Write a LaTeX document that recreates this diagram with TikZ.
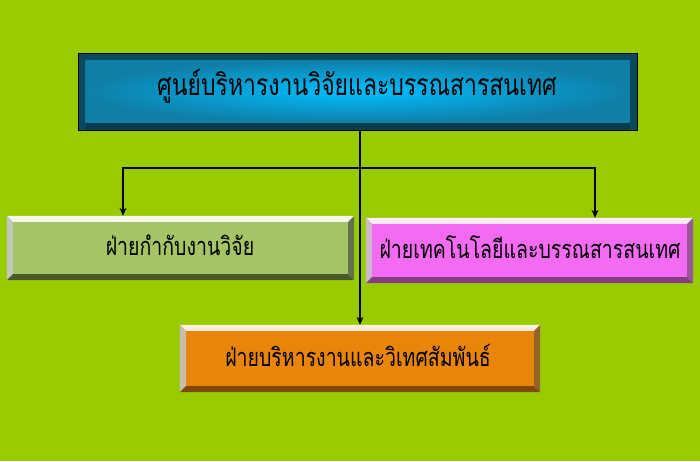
\documentclass[tikz,border=0pt]{standalone}
\usepackage{fontspec}
\usepackage{graphicx}
\newfontfamily\thaifont[Script=Thai]{Loma}
\usetikzlibrary{calc,arrows.meta}
\definecolor{bg}{HTML}{99CC00}
\definecolor{tealM}{HTML}{0F7FA8}
\definecolor{tealL}{HTML}{00BFFF}
\definecolor{tealD}{HTML}{0A4A5E}
\definecolor{greenM}{HTML}{A4C465}
\definecolor{pinkM}{HTML}{F36BF3}
\definecolor{orangeM}{HTML}{E8850A}
\newcommand{\stretchtxt}[1]{\scalebox{1}[1.3]{#1}}
\tikzset{x=1pt,y=-1pt,
 box/.style={inner sep=0pt,font=\thaifont\fontsize{19.5}{22}\selectfont},
 conn/.style={draw=black,line width=1.2pt},
 arr/.style={conn,-{Stealth[length=8pt,width=7pt]}}}
\newcommand{\bevbox}[8]{%
 \node[inner sep=0pt,minimum width=#3pt,minimum height=#4pt,fill=#5] (#1) at #2 {};
 \fill[#6] (#1.north west) -- (#1.north east) -- ([xshift=-#8pt,yshift=-#8pt]#1.north east) -- ([xshift=#8pt,yshift=-#8pt]#1.north west) -- cycle;
 \fill[#6!80!black] (#1.north west) -- ([xshift=#8pt,yshift=-#8pt]#1.north west) -- ([xshift=#8pt,yshift=#8pt]#1.south west) -- (#1.south west) -- cycle;
 \fill[#7] (#1.south west) -- ([xshift=#8pt,yshift=#8pt]#1.south west) -- ([xshift=-#8pt,yshift=#8pt]#1.south east) -- (#1.south east) -- cycle;
 \fill[#7!85!white] (#1.north east) -- ([xshift=-#8pt,yshift=-#8pt]#1.north east) -- ([xshift=-#8pt,yshift=#8pt]#1.south east) -- (#1.south east) -- cycle;
}
\begin{document}
\begin{tikzpicture}
\fill[bg] (0,0) rectangle (700,461);
\useasboundingbox (0,0) rectangle (700,461);
% top
\node[minimum width=559pt,minimum height=77pt,fill=tealD,draw=black,line width=1pt,inner sep=0pt] (top) at (357.5,91.5) {};
\shade[inner color=tealL,outer color=tealM] ([xshift=8pt,yshift=-8pt]top.north west) rectangle ([xshift=-8pt,yshift=8pt]top.south east);
\fill[tealD!80!black] ([xshift=8pt,yshift=8pt]top.south west) rectangle ([xshift=-8pt,yshift=1pt]top.south east);
\node[box,font=\thaifont\fontsize{23}{26}\selectfont] (toptxt) at (357,86) {\stretchtxt{ศูนย์บริหารงานวิจัยและบรรณสารสนเทศ}};
% left
\bevbox{left}{(180.5,248)}{347}{64}{greenM}{white!88!greenM}{greenM!45!black}{6}
\node[box] (lefttxt) at (180,245) {\stretchtxt{ฝ่ายกำกับงานวิจัย}};
% right
\bevbox{right}{(529.5,250.5)}{327}{65}{pinkM}{white!85!pinkM}{pinkM!55!black}{6}
\node[box] (righttxt) at (530,247) {\stretchtxt{ฝ่ายเทคโนโลยีและบรรณสารสนเทศ}};
% bottom
\bevbox{bot}{(360,358.5)}{360}{67}{orangeM}{white!85!orangeM}{orangeM!55!black}{6}
\node[box] (bottxt) at (358,355) {\stretchtxt{ฝ่ายบริหารงานและวิเทศสัมพันธ์}};
% connectors
\coordinate (j) at (360,168);
\draw[arr] (top.south -| bot.north) -- (bot.north);
\draw[arr] (j) -| ([xshift=-57.5pt]left.north);
\draw[arr] (j) -| ([xshift=65.5pt]right.north);
\end{tikzpicture}
\end{document}
